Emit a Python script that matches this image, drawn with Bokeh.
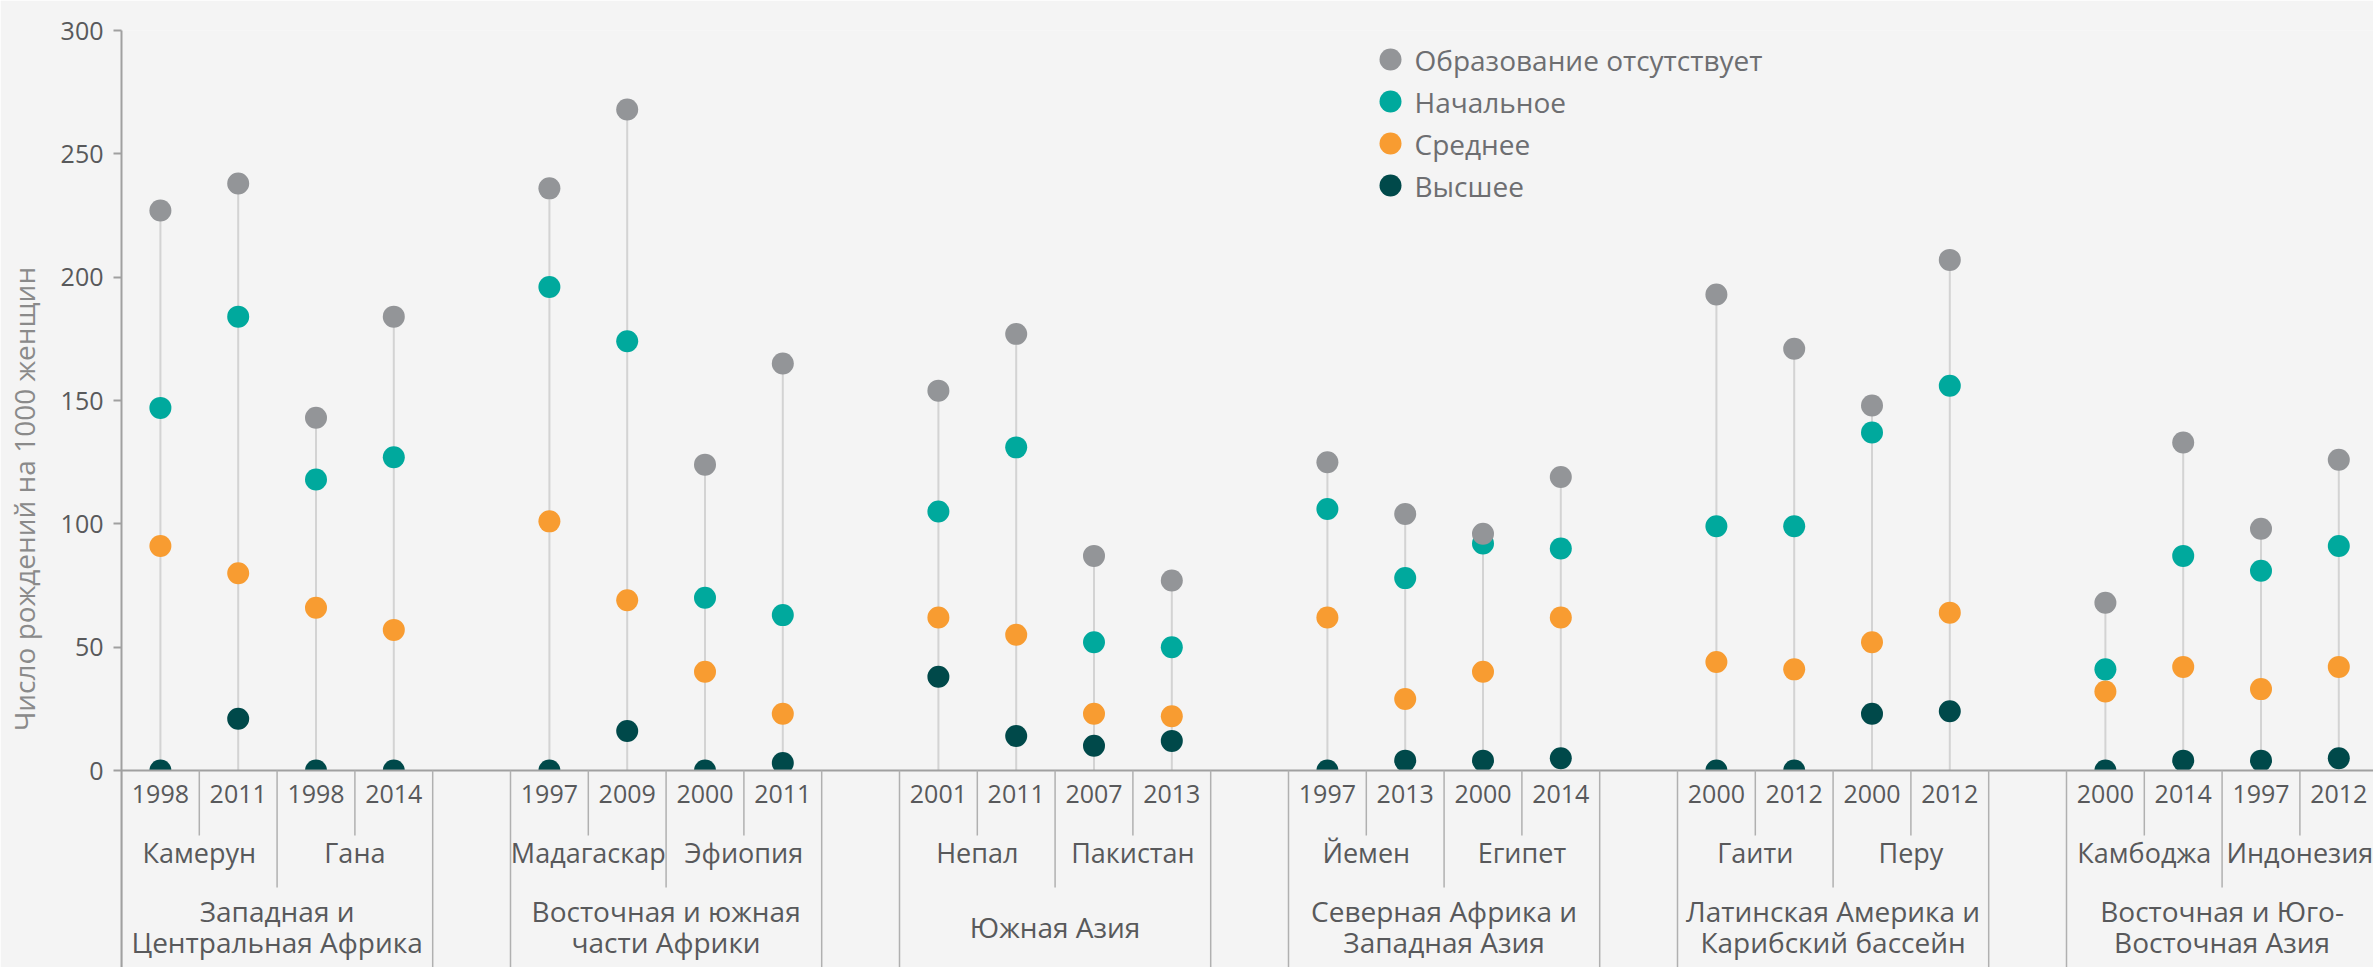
from bokeh.plotting import figure
from bokeh.models import Range1d, FixedTicker, ColumnDataSource
from bokeh.core.properties import value
from bokeh.embed import file_html
from bokeh.resources import INLINE

# ---------------- data ----------------
regions = [
    "Западная и\nЦентральная Африка",
    "Восточная и южная\nчасти Африки",
    "Южная Азия",
    "Северная Африка и\nЗападная Азия",
    "Латинская Америка и\nКарибский бассейн",
    "Восточная и Юго-\nВосточная Азия",
]
countries = ["Камерун", "Гана", "Мадагаскар", "Эфиопия", "Непал", "Пакистан",
             "Йемен", "Египет", "Гаити", "Перу", "Камбоджа", "Индонезия"]
years = ["1998", "2011", "1998", "2014",
         "1997", "2009", "2000", "2011",
         "2001", "2011", "2007", "2013",
         "1997", "2013", "2000", "2014",
         "2000", "2012", "2000", "2012",
         "2000", "2014", "1997", "2012"]
no_education = [227, 238, 143, 184, 236, 268, 124, 165, 154, 177, 87, 77,
                125, 104, 96, 119, 193, 171, 148, 207, 68, 133, 98, 126]
primary = [147, 184, 118, 127, 196, 174, 70, 63, 105, 131, 52, 50,
           106, 78, 92, 90, 99, 99, 137, 156, 41, 87, 81, 91]
secondary = [91, 80, 66, 57, 101, 69, 40, 23, 62, 55, 23, 22,
             62, 29, 40, 62, 44, 41, 52, 64, 32, 42, 33, 42]
higher = [0, 21, 0, 0, 0, 16, 0, 3, 38, 14, 10, 12,
          0, 4, 4, 5, 0, 0, 23, 24, 0, 4, 4, 5]
series_names = ["Образование отсутствует", "Начальное", "Среднее", "Высшее"]
y_ticks = [0, 50, 100, 150, 200, 250, 300]
y_label = "Число рождений на 1000 женщин"

# ---------------- style / layout ----------------
BG = "#f4f4f4"
COLORS = ["#939598", "#00a99d", "#f89c31", "#00494a"]
STEM = "#d3d3d3"
AXIS = "#a0a0a0"
SEP = "#b0b0b0"
TXT = "#58595b"
FONT = "Open Sans"

YEARS_PER_COUNTRY = 2
COUNTRIES_PER_REGION = 2
CELLS_PER_REGION = YEARS_PER_COUNTRY * COUNTRIES_PER_REGION + 1  # one gap cell

W = 2373
H = 967
LEFT = 121
TOP_B = 30
Y_MAX = 300
CHART_PX = 740                    # pixel height of 0..300
BELOW_PX = H - TOP_B - CHART_PX   # category-label band below the zero line
PPU = CHART_PX / Y_MAX            # pixels per data unit
FRAME_W = W - LEFT
CELL_PX = 77.8                    # width of one year cell

def below(px):
    """data y of a point px pixels below the zero line"""
    return -px / PPU

def from_top(px):
    """data y of a point px pixels below the top of the frame"""
    return Y_MAX - px / PPU

def fx(px):
    """data x of a point px pixels right of the frame's left edge"""
    return px / CELL_PX

xs = [(i // 4) * CELLS_PER_REGION + (i % 4) + 0.5 for i in range(len(years))]
stem_top = [max(a, b, c, d) for a, b, c, d in zip(no_education, primary, secondary, higher)]

p = figure(width=W, height=H, x_range=Range1d(0, fx(FRAME_W)),
           y_range=Range1d(below(BELOW_PX), Y_MAX),
           x_axis_location=None, y_axis_location="left",
           output_backend="svg", toolbar_location=None,
           min_border_left=LEFT, min_border_right=0, min_border_top=TOP_B,
           min_border_bottom=0, background_fill_color=BG,
           border_fill_color=BG, outline_line_color=None)
p.grid.visible = False

ya = p.yaxis[0]
ya.ticker = FixedTicker(ticks=y_ticks)
ya.major_tick_out = 8
ya.major_tick_in = 0
ya.minor_tick_line_color = None
ya.axis_line_color = AXIS
ya.axis_line_width = 2
ya.major_tick_line_color = AXIS
ya.major_tick_line_width = 2
ya.major_label_text_font = FONT
ya.major_label_text_font_size = "25px"
ya.major_label_text_color = TXT
ya.major_label_standoff = 10
ya.axis_label = y_label
ya.axis_label_text_font = FONT
ya.axis_label_text_font_size = "28px"
ya.axis_label_text_font_style = "normal"
ya.axis_label_text_color = "#8a8a8a"
ya.axis_label_standoff = 15

src = ColumnDataSource(dict(x=xs, top=stem_top, none=no_education, prim=primary,
                            sec=secondary, high=higher))
p.segment(x0="x", y0=0, x1="x", y1="top", source=src, line_color=STEM, line_width=2)
for col, ci in [("sec", 2), ("high", 3), ("prim", 1), ("none", 0)]:
    p.scatter(x="x", y=col, source=src, size=22, fill_color=COLORS[ci], line_color=None)

# marks are cut at the zero line: the label band is painted over them
p.quad(left=0, right=fx(FRAME_W), bottom=below(BELOW_PX), top=0,
       fill_color=BG, line_color=None)
p.segment(x0=0, y0=0, x1=fx(FRAME_W), y1=0, line_color=AXIS, line_width=2)

# legend
LEG_DOT_PX = 1269
LEG_TXT_PX = 1293
LEG_ROW0 = 29
LEG_STEP = 42
leg_y = [from_top(LEG_ROW0 + k * LEG_STEP) for k in range(len(series_names))]
p.scatter(x=[fx(LEG_DOT_PX)] * 4, y=leg_y, size=22, fill_color=COLORS, line_color=None)
p.text(x=[fx(LEG_TXT_PX)] * 4, y=leg_y, text=series_names, text_font=value(FONT),
       text_font_size="28px", text_color="#6d6e71", text_baseline="middle",
       text_align="left")

# ---------------- hierarchical category labels ----------------
ROW_YEAR = below(23)
SHORT_END = below(65)
ROW_COUNTRY = below(82)
MID_END = below(117)
ROW_REGION = below(156)
LONG_END = below(BELOW_PX)

short_x, mid_x, long_x = [], [], []
country_x, region_x = [], []
for r in range(len(regions)):
    base = r * CELLS_PER_REGION
    long_x += [base, base + YEARS_PER_COUNTRY * COUNTRIES_PER_REGION]
    mid_x.append(base + YEARS_PER_COUNTRY)
    region_x.append(base + YEARS_PER_COUNTRY * COUNTRIES_PER_REGION / 2)
    for c in range(COUNTRIES_PER_REGION):
        short_x.append(base + c * YEARS_PER_COUNTRY + 1)
        country_x.append(base + c * YEARS_PER_COUNTRY + YEARS_PER_COUNTRY / 2)

p.segment(x0=short_x, y0=0, x1=short_x, y1=SHORT_END, line_color=SEP, line_width=1.5)
p.segment(x0=mid_x, y0=0, x1=mid_x, y1=MID_END, line_color=SEP, line_width=1.5)
p.segment(x0=long_x, y0=0, x1=long_x, y1=LONG_END, line_color=SEP, line_width=1.5)

p.text(x=xs, y=ROW_YEAR, text=years, text_font=value(FONT), text_font_size="25px",
       text_color=TXT, text_align="center", text_baseline="middle")
p.text(x=country_x, y=ROW_COUNTRY, text=countries, text_font=value(FONT),
       text_font_size="27px", text_color=TXT, text_align="center",
       text_baseline="middle")
p.text(x=region_x, y=ROW_REGION, text=regions, text_font=value(FONT),
       text_font_size="28px", text_color=TXT, text_align="center",
       text_baseline="middle", text_line_height=0.79)

open("out.html", "w").write(file_html(p, INLINE))
